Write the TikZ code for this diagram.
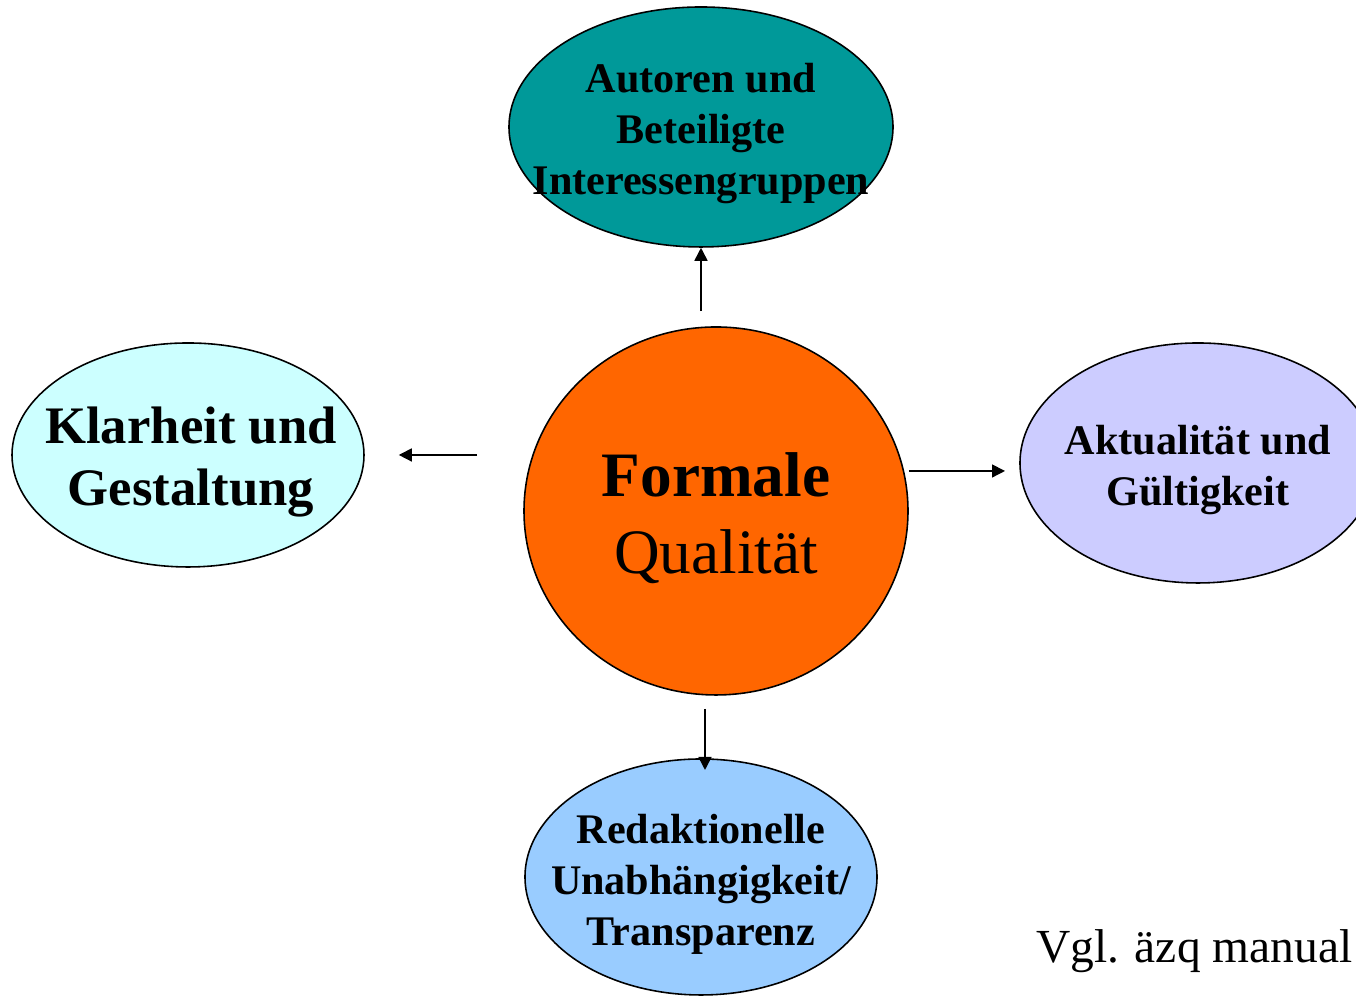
\documentclass[tikz,border=0pt]{standalone}
\usepackage{fontspec}
\setmainfont{Liberation Serif}
\usetikzlibrary{positioning, shapes.geometric, arrows.meta}

\definecolor{tealblob}{RGB}{0,153,153}
\definecolor{cyanblob}{RGB}{204,255,255}
\definecolor{orangeblob}{RGB}{255,102,0}
\definecolor{lilacblob}{RGB}{204,204,255}
\definecolor{blueblob}{RGB}{153,204,255}

\tikzset{
    blob/.style={ellipse, draw, inner sep=0pt, line width=.45pt},
    blobtext/.style={align=center, inner sep=0pt, yshift=-.07cm,
        font=\bfseries\fontsize{12}{14.5}\selectfont},
    arr/.style={-{Triangle[length=1.3mm, width=1.3mm]}, line width=.45pt},
}

\begin{document}
\begin{tikzpicture}
    \clip (0,0) rectangle (13.56,9.97);

    \node[blob, fill=orangeblob, minimum width=3.84cm, minimum height=3.68cm,
        label={[blobtext, font=\fontsize{18}{21.9}\selectfont]center:{\textbf{Formale}\\ Qualit\"at}}]
        (formal) at (7.16,4.86) {};

    \node[blob, fill=tealblob, minimum width=3.84cm, minimum height=2.40cm,
        label={[blobtext]center:{Autoren und\\ Beteiligte\\ Interessengruppen}}]
        (autoren) at (7.01,8.70) {};
    \node[blob, fill=cyanblob, minimum width=3.52cm, minimum height=2.24cm,
        label={[blobtext, font=\bfseries\fontsize{15}{17.6}\selectfont, xshift=.03cm]center:{Klarheit und\\ Gestaltung}}]
        (klarheit) at (1.88,5.42) {};
    \node[blob, fill=lilacblob, minimum width=3.56cm, minimum height=2.40cm,
        label={[blobtext]center:{Aktualit\"at und\\ G\"ultigkeit}}]
        (aktual) at (11.98,5.34) {};
    \node[blob, fill=blueblob, minimum width=3.52cm, minimum height=2.36cm,
        label={[blobtext]center:{Redaktionelle\\ Unabh\"angigkeit/\\ Transparenz}}]
        (redakt) at (7.01,1.20) {};

    \coordinate (rt) at (10.05,5.26);
    \coordinate (dn) at (7.05,2.27);

    \draw[arr, shorten <=.15cm] (formal.north -| autoren.south) -- (autoren.south);
    \draw[arr, shorten <=.46cm, shorten >=.34cm] (formal.west |- klarheit.east) -- (klarheit.east);
    \draw[arr] (formal.east |- rt) -- (rt);
    \draw[arr, shorten <=.13cm] (formal.south -| dn) -- (dn);

    \node[anchor=base east, inner sep=0pt, font=\fontsize{13.5}{16}\selectfont] (quelle) at (13.53,0.34) {Vgl. \"azq manual};
\end{tikzpicture}
\end{document}
